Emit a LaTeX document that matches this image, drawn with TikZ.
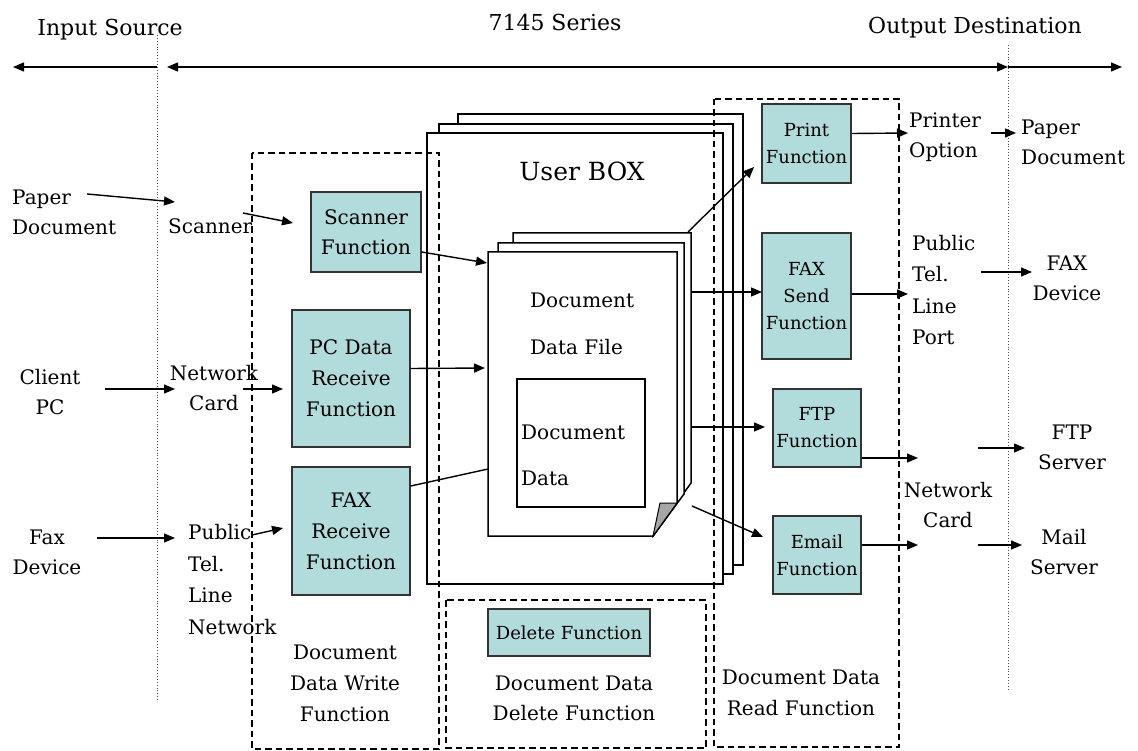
\documentclass[tikz,border=0pt]{standalone}
\usepackage{fontspec}
\setmainfont{DejaVu Serif}
\usetikzlibrary{arrows.meta}

\definecolor{fnteal}{RGB}{178,219,219}

\begin{document}
\begin{tikzpicture}[x=1pt, y=-1pt,
    >={Triangle[length=11pt, width=9pt]},
    txt/.style={inner sep=0pt, align=center, font=\fontsize{20}{30}\selectfont},
    hdr/.style={inner sep=0pt, font=\fontsize{22}{26}\selectfont},
    fnbox/.style={draw=black!80, line width=1.5pt, fill=fnteal, inner sep=0pt, align=center, font=\fontsize{20}{30}\selectfont},
    fnsmall/.style={fnbox, font=\fontsize{18}{27}\selectfont},
    grp/.style={dash pattern=on 6.5pt off 4pt, line width=1.3pt},
    sheet/.style={draw, line width=1.5pt, fill=white},
    sep/.style={dotted, line width=0.9pt, black!70},
    arr/.style={line width=1.4pt, ->},
    ]
    \useasboundingbox (0,0) rectangle (1138,751);

    % headers and the scale line
    \node[hdr] (insrc) at (110,30) {Input Source};
    \node[hdr] (series) at (555,22) {7145 Series};
    \node[hdr] (outdst) at (975,28) {Output Destination};
    \coordinate (sepLtop) at (157,35);
    \coordinate (sepLbot) at (157,702);
    \coordinate (sepRtop) at (1008,45);
    \coordinate (sepRbot) at (1008,690);
    \draw[sep] (sepLtop) -- (sepLbot);
    \draw[sep] (sepRtop) -- (sepRbot);
    \coordinate (lnA) at (13,67);
    \coordinate (lnB) at (157,67);
    \coordinate (lnC) at (167,67);
    \coordinate (lnD) at (1008,67);
    \coordinate (lnE) at (1122,67);
    \draw[arr] (lnB) -- (lnA);
    \draw[line width=1.4pt, <->] (lnC) -- (lnD);
    \draw[arr] (lnD) -- (lnE);

    % user box (stacked sheets)
    \draw[sheet] (458,114) rectangle (743,565);
    \draw[sheet] (439,124) rectangle (733,574);
    \node[sheet, minimum width=296pt, minimum height=451pt] (ubox) at (575,358.5) {};
    \node[inner sep=0pt, font=\fontsize{25}{30}\selectfont] (uboxlbl) at (582,171) {User BOX};

    % document data file
    \draw[sheet] (513,233) -- (691,233) -- (691,483) -- (653,536) -- (513,536) -- cycle;
    \draw[sheet] (498,243) -- (684,243) -- (684,494) -- (653,536) -- (498,536) -- cycle;
    \draw[sheet] (488,252) -- (677,252) -- (677,503) -- (653,536) -- (488,536) -- cycle;
    \draw[line width=1pt, fill=black!35] (653,536) -- (660,503) -- (677,503) -- cycle;
    \node[txt, align=left, anchor=west, font=\fontsize{20}{47}\selectfont] (filelbl) at (530,323.5) {Document\\Data File};
    \node[draw, line width=1.5pt, minimum width=128pt, minimum height=128pt, inner sep=0pt] (docdata) at (581,443) {};
    \node[txt, align=left, anchor=west, font=\fontsize{20}{46}\selectfont] (datalbl) at (521,455) {Document\\Data};

    % function groups
    \draw[grp] (252,153) rectangle (439,749);
    \draw[grp] (446,600) rectangle (706,748);
    \draw[grp] (714,99) rectangle (899,747);
    \node[txt, font=\fontsize{20}{31}\selectfont] (writelbl) at (345,683) {Document\\Data Write\\Function};
    \node[txt] (dellbl) at (574,698) {Document Data\\Delete Function};
    \node[txt, font=\fontsize{20}{31}\selectfont] (readlbl) at (801,692.5) {Document Data\\Read Function};

    \node[fnbox, minimum width=110pt, minimum height=80pt] (scanf) at (366,232) {Scanner\\Function};
    \node[fnbox, minimum width=118pt, minimum height=137pt, font=\fontsize{20}{31}\selectfont] (pcf) at (351,378.5) {PC Data\\Receive\\Function};
    \node[fnbox, minimum width=118pt, minimum height=128pt, font=\fontsize{20}{31}\selectfont] (faxrf) at (351,531) {FAX\\Receive\\Function};
    \node[fnsmall, minimum width=162pt, minimum height=47pt] (delf) at (569,632.5) {Delete Function};
    \node[fnsmall, minimum width=89pt, minimum height=79pt] (printf) at (806.5,143.5) {Print\\Function};
    \node[fnsmall, minimum width=89pt, minimum height=126pt] (faxsf) at (806.5,296) {FAX\\Send\\Function};
    \node[fnsmall, minimum width=88pt, minimum height=78pt] (ftpf) at (817,428) {FTP\\Function};
    \node[fnsmall, minimum width=88pt, minimum height=78pt] (mailf) at (817,555) {Email\\Function};

    % input side
    \node[txt, align=left, anchor=west] (paperin) at (12,212) {Paper\\Document};
    \node[txt, anchor=west] (scanner) at (168,226) {Scanner};
    \node[txt] (client) at (50,392) {Client\\PC};
    \node[txt] (netin) at (214,388) {Network\\Card};
    \node[txt] (faxin) at (47,552) {Fax\\Device};
    \node[txt, align=left, anchor=west, font=\fontsize{20}{31.7}\selectfont] (telin) at (188,579.5) {Public\\Tel.\\Line\\Network};

    % output side
    \node[txt, align=left, anchor=west] (printer) at (909,137) {Printer\\Option};
    \node[txt, align=left, anchor=west] (paperout) at (1021,142) {Paper\\Document};
    \node[txt, align=left, anchor=west, font=\fontsize{20}{31.3}\selectfont] (telout) at (912,290) {Public\\Tel.\\Line\\Port};
    \node[txt] (faxout) at (1067,278) {FAX\\Device};
    \node[txt] (netout) at (948,505) {Network\\Card};
    \node[txt] (ftpsrv) at (1072,447) {FTP\\Server};
    \node[txt] (mailsrv) at (1064,552.5) {Mail\\Server};

    % connector ends
    \coordinate (pin1) at (87,194);   \coordinate (pin2) at (175,202);
    \coordinate (scn1) at (243,213);  \coordinate (scn2) at (293,223);
    \coordinate (cli1) at (105,389);  \coordinate (cli2) at (175,389);
    \coordinate (nin1) at (243,389);  \coordinate (nin2) at (283,389);
    \coordinate (fin1) at (97,538);   \coordinate (fin2) at (175,538);
    \coordinate (tin1) at (252,535);  \coordinate (tin2) at (283,528);
    \coordinate (dfA) at (487,263);
    \coordinate (dfB) at (485,368);
    \coordinate (dfC) at (488,469);
    \coordinate (dfP) at (688,232);   \coordinate (prn) at (754,167);
    \coordinate (dfF) at (691,292);   \coordinate (fxs) at (762,292);
    \coordinate (dfT) at (691,427);   \coordinate (ftp) at (765,427);
    \coordinate (dfE) at (692,506);   \coordinate (eml) at (763,537);
    \coordinate (pro) at (908,133);
    \coordinate (pap1) at (991,133);  \coordinate (pap2) at (1016,133);
    \coordinate (tlo) at (908,294);
    \coordinate (fxd1) at (981,272);  \coordinate (fxd2) at (1032,272);
    \coordinate (nco1) at (918,458);  \coordinate (nco2) at (918,545);
    \coordinate (fts1) at (978,448);  \coordinate (fts2) at (1025,448);
    \coordinate (mls1) at (978,545);  \coordinate (mls2) at (1022,545);

    \draw[arr] (pin1) -- (pin2);
    \draw[arr] (scn1) -- (scn2);
    \draw[arr] (cli1) -- (cli2);
    \draw[arr] (nin1) -- (nin2);
    \draw[arr] (fin1) -- (fin2);
    \draw[arr] (tin1) -- (tin2);
    \draw[arr] ([yshift=-20pt]scanf.east) -- (dfA);
    \draw[arr] ([yshift=10pt]pcf.east) -- (dfB);
    \draw[line width=1.4pt] ([yshift=45pt]faxrf.east) -- (dfC);

    \draw[arr] (dfP) -- (prn);
    \draw[arr] (dfF) -- (fxs);
    \draw[arr] (dfT) -- (ftp);
    \draw[arr] (dfE) -- (eml);
    \draw[arr] ([yshift=10pt]printf.east) -- (pro);
    \draw[arr] ([yshift=2pt]faxsf.east) -- (tlo);
    \draw[arr] ([yshift=-30pt]ftpf.east) -- (nco1);
    \draw[arr] ([yshift=10pt]mailf.east) -- (nco2);
    \draw[arr] (pap1) -- (pap2);
    \draw[arr] (fxd1) -- (fxd2);
    \draw[arr] (fts1) -- (fts2);
    \draw[arr] (mls1) -- (mls2);
\end{tikzpicture}
\end{document}
